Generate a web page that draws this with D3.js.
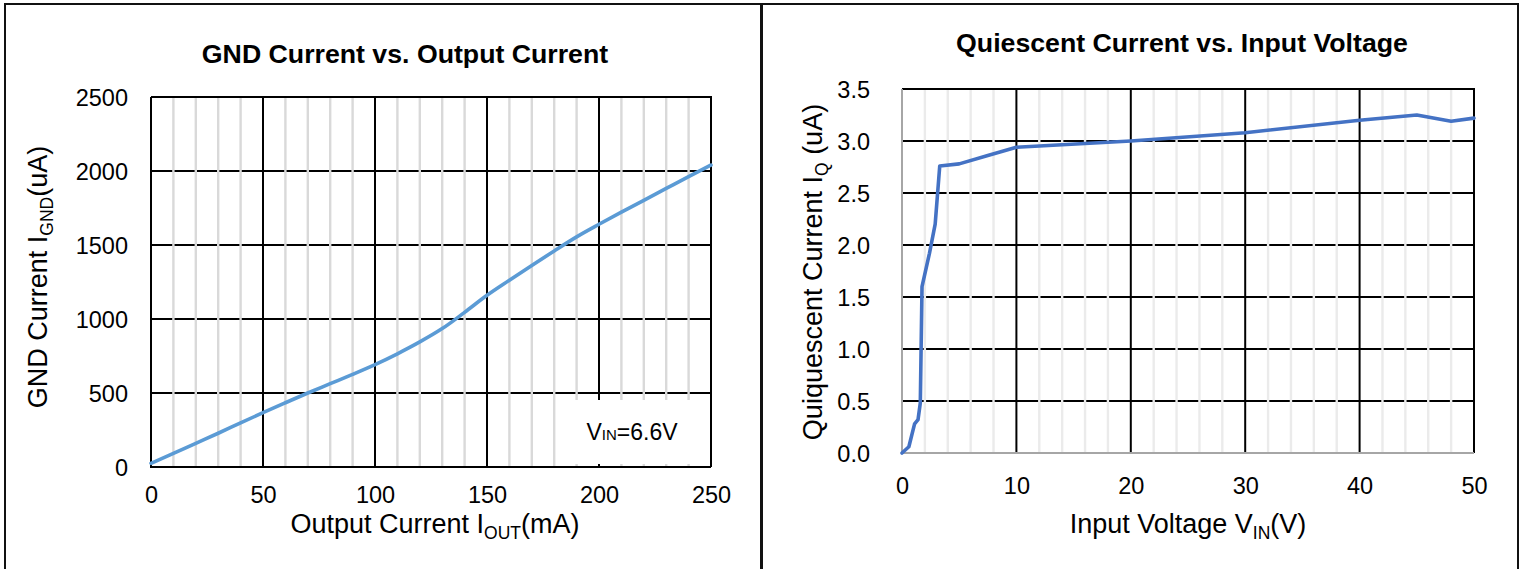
<!DOCTYPE html>
<html>
<head>
<meta charset="utf-8">
<script src="https://cdn.jsdelivr.net/npm/d3@7"></script>
<style>
  body { margin: 0; background: #fff; }
  svg { display: block; font-family: "Liberation Sans", Arial, sans-serif; }
</style>
</head>
<body>
<div id="screen"></div>
<script>
// GND current vs output current (VIN = 6.6V)
const ioutMA = [0, 5, 10, 20, 30, 40, 50, 60, 70, 80, 90, 100, 110, 120, 130, 140, 150, 160, 170, 180, 190, 200, 210, 220, 230, 240, 250]
const igndUA = [25, 58, 92, 160, 228, 298, 367, 434, 500, 563, 626, 692, 765, 845, 935, 1045, 1160, 1262, 1362, 1460, 1555, 1640, 1722, 1802, 1882, 1962, 2040]
const gndXTicks = [0, 50, 100, 150, 200, 250]
const gndYTicks = [0, 500, 1000, 1500, 2000, 2500]

// Quiescent current vs input voltage
const vinV = [0, 0.6, 1.1, 1.4, 1.6, 1.75, 2.4, 2.9, 3.3, 5, 7.5, 10, 20, 30, 40, 45, 48, 50]
const iqUA = [0, 0.06, 0.28, 0.32, 0.48, 1.6, 1.92, 2.2, 2.76, 2.78, 2.86, 2.94, 3.0, 3.08, 3.2, 3.25, 3.19, 3.22]
const qXTicks = [0, 10, 20, 30, 40, 50]
const qYTicks = [0, 0.5, 1.0, 1.5, 2.0, 2.5, 3.0, 3.5]

const W = 1526, H = 569
const TITLE_SIZE = 26.7, AXIS_TITLE = 27, SUB = 17.5, TICK = 23.5

var svg = d3.select('#screen').append('svg')
    .attr('width', W)
    .attr('height', H)

// outer table cells
svg.append('rect').attr('x', 5).attr('y', 4).attr('width', 756).attr('height', 600)
    .attr('fill', 'none').attr('stroke', '#111').attr('stroke-width', 2)
svg.append('rect').attr('x', 762).attr('y', 4).attr('width', 756).attr('height', 600)
    .attr('fill', 'none').attr('stroke', '#111').attr('stroke-width', 2)

function drawChart(opt)
{
    var g = svg.append('g')
    var x = d3.scaleLinear().domain(opt.xDomain).range([opt.left, opt.right])
    var y = d3.scaleLinear().domain(opt.yDomain).range([opt.bottom, opt.top])

    // horizontal major grid
    g.append('g').selectAll('line').data(opt.yTicks).join('line')
        .attr('x1', opt.left).attr('x2', opt.right)
        .attr('y1', d => y(d)).attr('y2', d => y(d))
        .attr('stroke', '#000').attr('stroke-width', 2)

    // minor vertical grid (drawn over the horizontal lines)
    var minor = d3.range(opt.xDomain[0], opt.xDomain[1] + 1e-9, opt.minorStep)
        .filter(v => opt.xTicks.indexOf(+v.toFixed(6)) < 0)
    g.append('g').selectAll('line').data(minor).join('line')
        .attr('x1', d => x(d)).attr('x2', d => x(d))
        .attr('y1', opt.top).attr('y2', opt.bottom)
        .attr('stroke', opt.minorColor).attr('stroke-width', 2.4)

    // major vertical grid
    g.append('g').selectAll('line').data(opt.xTicks).join('line')
        .attr('x1', d => x(d)).attr('x2', d => x(d))
        .attr('y1', opt.top).attr('y2', opt.bottom)
        .attr('stroke', '#000').attr('stroke-width', 2)

    // plot frame
    g.append('path')
        .attr('d', `M${opt.left},${opt.top}H${opt.right}V${opt.bottom}`)
        .attr('fill', 'none').attr('stroke', '#000').attr('stroke-width', 2)
    g.append('path')
        .attr('d', `M${opt.left},${opt.top}V${opt.bottom}H${opt.right}`)
        .attr('fill', 'none').attr('stroke', opt.axisColor).attr('stroke-width', 2)

    // tick labels through d3 axes
    var yAxis = g.append('g')
        .attr('transform', `translate(${opt.left},0)`)
        .call(d3.axisLeft(y).tickValues(opt.yTicks).tickFormat(opt.yFormat).tickSize(0).tickPadding(opt.left - opt.yLabelRight))
    var xAxis = g.append('g')
        .attr('transform', `translate(0,${opt.bottom})`)
        .call(d3.axisBottom(x).tickValues(opt.xTicks).tickFormat(d3.format('d')).tickSize(0).tickPadding(0))
    ;[yAxis, xAxis].forEach(a => {
        a.select('.domain').remove()
        a.attr('font-size', TICK).attr('font-family', '"Liberation Sans", Arial, sans-serif')
        a.selectAll('text').attr('fill', '#000')
    })
    yAxis.selectAll('text').attr('dy', '0.34em')
    xAxis.selectAll('text').attr('dy', null).attr('y', opt.xLabelBase - opt.bottom)

    // series line
    var pts = opt.xs.map((v, i) => [v, opt.ys[i]])
    g.append('path')
        .datum(pts)
        .attr('d', d3.line().x(d => x(d[0])).y(d => y(d[1])).curve(opt.curve))
        .attr('fill', 'none')
        .attr('stroke', opt.lineColor)
        .attr('stroke-width', 3.6)
        .attr('stroke-linejoin', 'round')
        .attr('stroke-linecap', 'round')

    // title
    g.append('text')
        .attr('x', opt.titleX).attr('y', opt.titleY)
        .attr('text-anchor', 'middle')
        .attr('font-weight', 'bold').attr('font-size', TITLE_SIZE)
        .text(opt.title)

    // x axis title
    var xt = g.append('text')
        .attr('x', opt.xTitleX).attr('y', 533)
        .attr('text-anchor', 'middle')
        .attr('font-size', AXIS_TITLE)
    opt.xTitle.forEach(p => {
        xt.append('tspan').text(p[0])
            .attr('font-size', p[1] ? SUB : AXIS_TITLE)
            .attr('dy', p[1] ? 6 : (p[2] ? -6 : 0))
    })

    // y axis title
    var yt = g.append('text')
        .attr('transform', `translate(${opt.yTitleX},${opt.yTitleY}) rotate(-90)`)
        .attr('text-anchor', 'middle')
        .attr('font-size', AXIS_TITLE)
    opt.yTitle.forEach(p => {
        yt.append('tspan').text(p[0])
            .attr('font-size', p[1] ? SUB : AXIS_TITLE)
            .attr('dy', p[1] ? 6 : (p[2] ? -6 : 0))
    })
    return g
}

var left = drawChart({
    xDomain: [0, 250], yDomain: [0, 2500],
    left: 151, right: 711, top: 97, bottom: 467,
    xTicks: gndXTicks, yTicks: gndYTicks, minorStep: 10,
    minorColor: '#d9d9d9', axisColor: '#000',
    yFormat: d3.format('d'), yLabelRight: 128, xLabelBase: 503,
    xs: ioutMA, ys: igndUA, lineColor: '#5b9bd5', curve: d3.curveMonotoneX,
    title: 'GND Current vs. Output Current', titleX: 405, titleY: 63,
    xTitleX: 435, xTitle: [['Output Current I'], ['OUT', true], ['(mA)', false, true]],
    yTitleX: 47, yTitleY: 277, yTitle: [['GND Current I'], ['GND', true], ['(uA)', false, true]]
})

// annotation box
left.append('rect').attr('x', 556).attr('y', 400).attr('width', 154).attr('height', 64).attr('fill', '#fff')
var ann = left.append('text').attr('x', 632).attr('y', 440).attr('text-anchor', 'middle').attr('font-size', 23)
ann.append('tspan').text('V')
ann.append('tspan').text('IN').attr('font-size', 15)
ann.append('tspan').text('=6.6V')

drawChart({
    xDomain: [0, 50], yDomain: [0, 3.5],
    left: 902, right: 1474, top: 89, bottom: 453,
    xTicks: qXTicks, yTicks: qYTicks, minorStep: 2,
    minorColor: '#ebebeb', axisColor: '#a6a6a6',
    yFormat: d3.format('.1f'), yLabelRight: 870, xLabelBase: 494,
    xs: vinV, ys: iqUA, lineColor: '#4472c4', curve: d3.curveLinear,
    title: 'Quiescent Current vs. Input Voltage', titleX: 1182, titleY: 52,
    xTitleX: 1188, xTitle: [['Input Voltage V'], ['IN', true], ['(V)', false, true]],
    yTitleX: 822, yTitleY: 272, yTitle: [['Quiquescent Current I'], ['Q', true], [' (uA)', false, true]]
})
</script>
</body>
</html>
